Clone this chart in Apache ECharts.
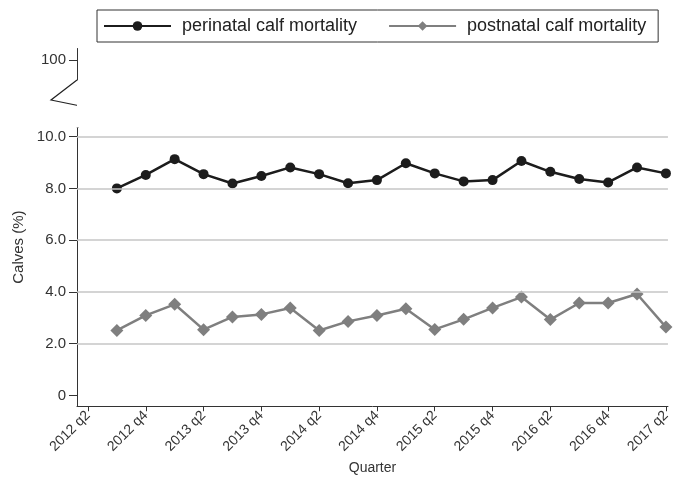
<!DOCTYPE html>
<html>
<head>
<meta charset="utf-8">
<script src="https://cdn.jsdelivr.net/npm/echarts@6/dist/echarts.min.js"></script>
<style>
  html, body { margin: 0; padding: 0; background: #fff; }
  #chart { width: 673px; height: 480px; }
</style>
</head>
<body>
<div id="chart"></div>
<script>
// quarters that have a value (x index 1..20, index 0 = 2012 q2)
const quarters = ['2012 q3', '2012 q4', '2013 q1', '2013 q2', '2013 q3', '2013 q4', '2014 q1', '2014 q2',
  '2014 q3', '2014 q4', '2015 q1', '2015 q2', '2015 q3', '2015 q4', '2016 q1', '2016 q2',
  '2016 q3', '2016 q4', '2017 q1', '2017 q2'];
const perinatal = [8.0, 8.52, 9.13, 8.55, 8.19, 8.48, 8.81, 8.55, 8.2, 8.32,
  8.97, 8.58, 8.27, 8.32, 9.06, 8.64, 8.36, 8.23, 8.81, 8.58];
const postnatal = [2.51, 3.09, 3.52, 2.54, 3.03, 3.13, 3.38, 2.51, 2.86, 3.09,
  3.35, 2.55, 2.94, 3.38, 3.80, 2.93, 3.57, 3.57, 3.92, 2.64];
const xTickLabels = ['2012 q2', '2012 q4', '2013 q2', '2013 q4', '2014 q2', '2014 q4',
  '2015 q2', '2015 q4', '2016 q2', '2016 q4', '2017 q2'];
const yTicks = [0, 2, 4, 6, 8, 10, 100];
const gridValues = [2, 4, 6, 8, 10];

const font = '"Liberation Sans", Arial, Helvetica, sans-serif';
const toXY = arr => arr.map((v, i) => [i + 1, v]);

const chart = echarts.init(document.getElementById('chart'));
chart.setOption({
  animation: false,
  textStyle: { fontFamily: font },
  grid: { left: 77, right: 5, top: 48, bottom: 72 },
  legend: {
    data: ['perinatal calf mortality', 'postnatal calf mortality'],
    left: 97, top: 10,
    padding: [7, 12, 7, 6],
    borderColor: '#333', borderWidth: 1,
    itemWidth: 67, itemHeight: 12, itemGap: 31,
    textStyle: { fontSize: 18, color: '#222', fontFamily: font, padding: [0, 0, 0, 6] }
  },
  xAxis: {
    type: 'value',
    min: -0.38, max: 20.07,
    name: 'Quarter', nameLocation: 'middle', nameGap: 52,
    nameTextStyle: { fontSize: 14, color: '#333', fontFamily: font },
    axisLine: { onZero: false, lineStyle: { color: '#333', width: 1 } },
    axisTick: { customValues: [0, 2, 4, 6, 8, 10, 12, 14, 16, 18, 20], length: 5, lineStyle: { color: '#333' } },
    axisLabel: {
      customValues: [0, 2, 4, 6, 8, 10, 12, 14, 16, 18, 20],
      rotate: 45, fontSize: 14, color: '#333', margin: 7,
      formatter: v => xTickLabels[Math.round(v / 2)]
    },
    splitLine: { show: false }
  },
  yAxis: {
    type: 'value',
    min: -0.42, max: 100.46,
    breaks: [{ start: 10.35, end: 99.23, gap: '13.33%' }],
    breakArea: {
      show: true, expandOnClick: false,
      zigzagAmplitude: 0,
      itemStyle: { color: '#fff', borderColor: 'rgba(0,0,0,0)', borderWidth: 0, opacity: 1 }
    },
    name: 'Calves (%)', nameLocation: 'middle', nameGap: 51,
    nameTextStyle: { fontSize: 15, color: '#333', fontFamily: font, padding: [0, 40, 0, 0] },
    axisLine: { show: true, onZero: false, lineStyle: { color: '#333', width: 1 } },
    axisTick: { show: true, customValues: yTicks, length: 8, lineStyle: { color: '#333' } },
    axisLabel: {
      customValues: yTicks, fontSize: 15, color: '#333', margin: 11,
      formatter: v => (v === 0 || v === 100) ? String(v) : v.toFixed(1)
    },
    splitLine: { show: false }
  },
  graphic: [{
    type: 'polyline', z: 100,
    shape: { points: [[77, 80], [51, 100], [100, 110], [77, 128]] },
    style: { stroke: '#222', lineWidth: 1.2, fill: null }
  }],
  series: [
    {
      name: 'grid', type: 'line', data: [], z: 1, silent: true,
      markLine: {
        silent: true, symbol: ['none', 'none'], label: { show: false },
        lineStyle: { color: '#c6c6c6', type: 'solid', width: 1.5 },
        data: gridValues.map(v => ({ yAxis: v }))
      }
    },
    {
      name: 'perinatal calf mortality', type: 'line', z: 3,
      data: toXY(perinatal),
      symbol: 'circle', symbolSize: 10,
      itemStyle: { color: '#1c1c1c' },
      lineStyle: { color: '#1c1c1c', width: 2.5 }
    },
    {
      name: 'postnatal calf mortality', type: 'line', z: 2,
      data: toXY(postnatal),
      symbol: 'diamond', symbolSize: 13,
      itemStyle: { color: '#7f7f7f' },
      lineStyle: { color: '#7f7f7f', width: 2.5 }
    }
  ]
});
</script>
</body>
</html>
